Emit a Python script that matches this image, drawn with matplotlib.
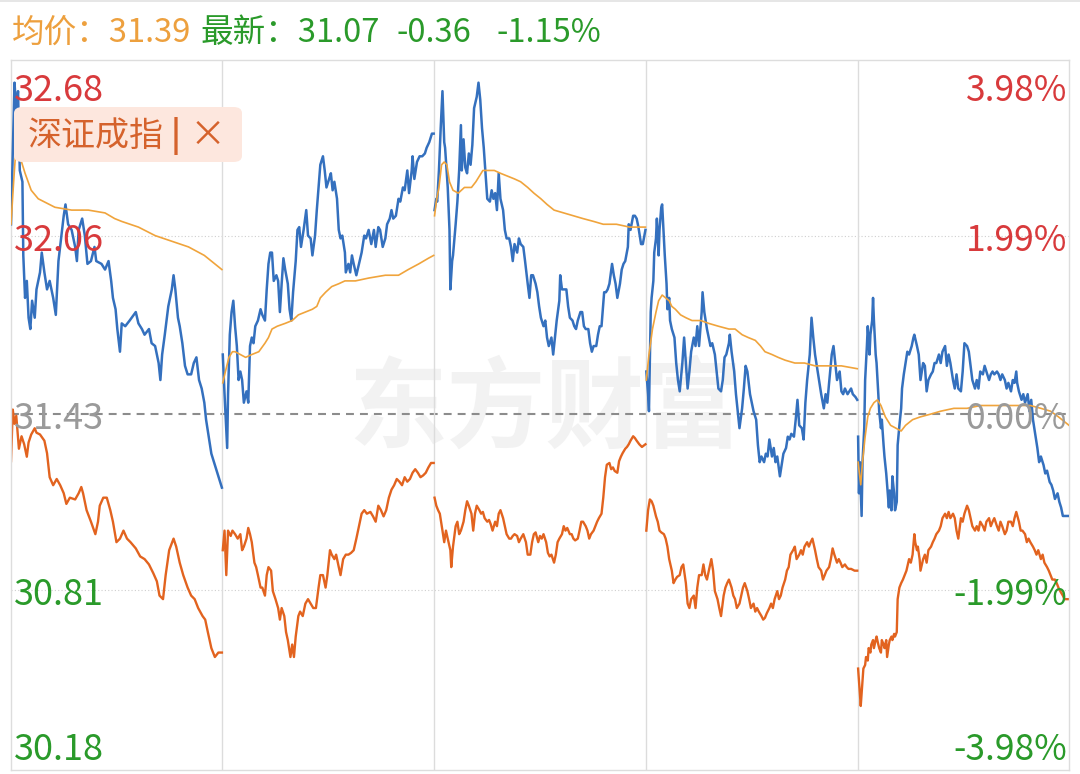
import numpy as np
import matplotlib
matplotlib.use("Agg")
import matplotlib.pyplot as plt
from matplotlib.patches import FancyBboxPatch
from matplotlib.lines import Line2D

plt.rcParams['font.family'] = ['Noto Sans CJK SC', 'DejaVu Sans']

# ---- data (5 trading days, minutes since open 0..240) ----
prev_close = 31.43
avg_last = 31.39
last_price = 31.07
change = -0.36
change_pct = -1.15
left_ticks = [32.68, 32.06, 31.43, 30.81, 30.18]
right_ticks = ["3.98%", "1.99%", "0.00%", "-1.99%", "-3.98%"]

price_t = [
    [0, 4, 6, 8, 10, 13, 14, 16, 18, 20, 22, 24, 27, 29, 33, 35, 38, 41, 44, 48,
     51, 54, 57, 60, 62, 65, 69, 73, 75, 77, 81, 84, 87, 91, 95, 97, 103, 107, 111, 114,
     116, 119, 121, 124, 126, 130, 135, 142, 145, 149, 152, 157, 160, 164, 168, 170, 172, 175, 179, 183,
     185, 187, 190, 192, 195, 198, 201, 205, 208, 211, 214, 217, 220, 222, 225, 228, 232, 236, 240],
    [0, 2, 5, 6, 8, 10, 12, 14, 16, 18, 20, 22, 24, 27, 29, 31, 33, 35, 37, 40,
     43, 45, 48, 50, 52, 54, 56, 58, 61, 63, 65, 67, 69, 71, 74, 76, 78, 80, 83, 85,
     87, 89, 92, 95, 97, 100, 102, 105, 107, 109, 111, 114, 116, 118, 121, 123, 125, 127, 130, 132,
     134, 136, 139, 140, 143, 145, 147, 149, 152, 155, 158, 161, 163, 166, 169, 172, 174, 177, 179, 182,
     185, 187, 190, 192, 194, 197, 200, 202, 205, 207, 210, 212, 215, 216, 218, 221, 224, 227, 230, 232,
     235, 238, 240],
    [0, 2, 3, 5, 7, 9, 11, 12, 15, 17, 18, 20, 21, 24, 26, 28, 30, 31, 33, 35,
     37, 39, 41, 43, 45, 48, 50, 52, 54, 56, 58, 60, 63, 65, 67, 69, 71, 73, 75, 78,
     80, 82, 85, 87, 89, 91, 94, 96, 98, 101, 103, 106, 108, 110, 112, 115, 117, 119, 121, 124,
     126, 128, 130, 133, 135, 137, 139, 142, 143, 145, 148, 150, 152, 154, 157, 159, 161, 163, 166, 168,
     170, 172, 175, 177, 179, 181, 184, 186, 188, 190, 193, 195, 197, 199, 202, 204, 206, 208, 211, 213,
     215, 217, 220, 221, 223, 226, 228, 230, 232, 235, 237, 240],
    [0, 2, 3, 5, 6, 8, 9, 11, 12, 14, 15, 17, 18, 20, 21, 23, 24, 26, 27, 29,
     32, 34, 36, 38, 41, 43, 45, 47, 49, 51, 54, 56, 58, 60, 63, 64, 66, 69, 71, 73,
     75, 78, 80, 82, 85, 87, 89, 91, 94, 95, 97, 100, 102, 104, 106, 109, 111, 113, 115, 118,
     120, 122, 125, 127, 129, 131, 134, 136, 138, 140, 143, 145, 147, 149, 152, 154, 156, 159, 161, 163,
     165, 168, 170, 172, 174, 177, 179, 181, 183, 186, 188, 190, 192, 195, 197, 199, 202, 204, 206, 208,
     211, 213, 215, 217, 220, 222, 224, 226, 229, 231, 233, 235, 238, 240],
    [0, 1, 2, 4, 5, 7, 8, 10, 11, 13, 14, 16, 17, 18, 20, 21, 23, 24, 26, 27,
     29, 30, 32, 33, 35, 36, 38, 39, 41, 42, 44, 45, 47, 49, 50, 52, 55, 56, 58, 61,
     63, 64, 67, 69, 71, 74, 76, 78, 80, 83, 85, 87, 89, 92, 94, 96, 99, 101, 103, 105,
     108, 110, 112, 114, 117, 119, 121, 124, 126, 128, 130, 133, 135, 137, 139, 142, 144, 146, 149, 151,
     153, 155, 158, 160, 162, 164, 167, 169, 171, 174, 176, 178, 180, 181, 183, 186, 188, 190, 193, 195,
     197, 199, 202, 204, 206, 208, 211, 213, 215, 218, 220, 222, 224, 227, 229, 231, 233, 236, 240],
]
price = [
    [32.10, 32.60, 32.50, 32.57, 32.29, 32.25, 31.99, 31.84, 31.90, 31.77,
     31.73, 31.83, 31.77, 31.87, 31.93, 32.00, 31.93, 31.87, 31.90, 31.84,
     31.78, 31.97, 32.05, 32.13, 32.17, 32.10, 32.08, 32.02, 31.97, 32.08,
     32.12, 32.06, 31.96, 31.97, 32.02, 31.97, 31.96, 31.94, 31.97, 31.90,
     31.84, 31.80, 31.73, 31.65, 31.75, 31.74, 31.76, 31.79, 31.75, 31.73,
     31.71, 31.73, 31.68, 31.67, 31.61, 31.55, 31.64, 31.71, 31.81, 31.87,
     31.92, 31.87, 31.77, 31.74, 31.68, 31.60, 31.57, 31.57, 31.61, 31.63,
     31.55, 31.52, 31.47, 31.41, 31.35, 31.29, 31.25, 31.21, 31.17],
    [31.64, 31.50, 31.31, 31.50, 31.71, 31.79, 31.83, 31.74, 31.67, 31.55,
     31.58, 31.55, 31.47, 31.51, 31.47, 31.67, 31.70, 31.68, 31.74, 31.76,
     31.80, 31.78, 31.76, 31.87, 31.96, 32.00, 32.00, 31.90, 31.92, 31.90,
     31.79, 31.89, 31.98, 31.94, 31.89, 31.80, 31.76, 31.86, 31.97, 32.08,
     32.09, 32.02, 32.08, 32.15, 32.06, 32.05, 31.99, 32.06, 32.15, 32.23,
     32.31, 32.34, 32.29, 32.23, 32.26, 32.28, 32.22, 32.25, 32.19, 32.08,
     32.05, 32.06, 32.00, 31.93, 31.96, 31.93, 31.99, 31.96, 31.92, 31.96,
     32.00, 32.06, 32.05, 32.08, 32.03, 32.08, 32.02, 32.09, 32.08, 32.02,
     32.05, 32.10, 32.12, 32.15, 32.12, 32.13, 32.19, 32.18, 32.23, 32.22,
     32.29, 32.21, 32.29, 32.34, 32.26, 32.32, 32.34, 32.34, 32.35, 32.37,
     32.39, 32.42, 32.42],
    [32.15, 32.19, 32.18, 32.29, 32.44, 32.57, 32.39, 32.37, 32.23, 32.08,
     31.87, 31.97, 31.99, 32.10, 32.18, 32.29, 32.45, 32.29, 32.40, 32.30,
     32.28, 32.35, 32.31, 32.38, 32.51, 32.55, 32.60, 32.54, 32.44, 32.37,
     32.28, 32.19, 32.18, 32.22, 32.19, 32.21, 32.15, 32.28, 32.19, 32.15,
     32.08, 32.05, 32.05, 32.02, 31.97, 32.03, 32.00, 32.05, 32.03, 32.02,
     31.97, 31.89, 31.84, 31.92, 31.92, 31.89, 31.86, 31.81, 31.77, 31.74,
     31.76, 31.70, 31.67, 31.70, 31.64, 31.70, 31.76, 31.83, 31.92, 31.87,
     31.87, 31.87, 31.81, 31.77, 31.76, 31.74, 31.73, 31.76, 31.79, 31.79,
     31.74, 31.73, 31.73, 31.68, 31.65, 31.67, 31.67, 31.71, 31.74, 31.74,
     31.86, 31.86, 31.87, 31.89, 31.96, 31.92, 31.89, 31.84, 31.89, 31.94,
     31.96, 31.97, 32.02, 32.10, 32.08, 32.13, 32.13, 32.12, 32.09, 32.03,
     32.03, 32.08],
    [31.58, 31.50, 31.44, 31.79, 31.84, 31.90, 32.00, 32.05, 32.12, 31.99,
     32.08, 32.16, 32.17, 32.05, 31.99, 31.89, 31.80, 31.84, 31.76, 31.73,
     31.70, 31.61, 31.55, 31.51, 31.61, 31.70, 31.61, 31.52, 31.58, 31.65,
     31.70, 31.67, 31.74, 31.67, 31.79, 31.86, 31.79, 31.73, 31.70, 31.67,
     31.68, 31.64, 31.58, 31.52, 31.51, 31.55, 31.63, 31.64, 31.68, 31.71,
     31.65, 31.58, 31.50, 31.44, 31.38, 31.45, 31.52, 31.60, 31.58, 31.50,
     31.47, 31.44, 31.41, 31.32, 31.26, 31.28, 31.26, 31.29, 31.28, 31.34,
     31.28, 31.31, 31.26, 31.28, 31.21, 31.25, 31.29, 31.31, 31.35, 31.34,
     31.36, 31.35, 31.41, 31.48, 31.39, 31.38, 31.34, 31.47, 31.55, 31.64,
     31.77, 31.70, 31.64, 31.58, 31.54, 31.50, 31.45, 31.50, 31.47, 31.54,
     31.64, 31.67, 31.61, 31.55, 31.58, 31.51, 31.50, 31.52, 31.50, 31.51,
     31.52, 31.50, 31.49, 31.48],
    [31.35, 31.15, 31.26, 31.07, 31.26, 31.38, 31.55, 31.67, 31.74, 31.64,
     31.71, 31.76, 31.84, 31.76, 31.64, 31.61, 31.50, 31.44, 31.38, 31.41,
     31.32, 31.28, 31.22, 31.18, 31.10, 31.16, 31.09, 31.21, 31.15, 31.09,
     31.12, 31.32, 31.39, 31.45, 31.52, 31.57, 31.63, 31.65, 31.64, 31.67,
     31.70, 31.71, 31.67, 31.64, 31.55, 31.61, 31.60, 31.51, 31.55, 31.57,
     31.58, 31.61, 31.61, 31.64, 31.61, 31.65, 31.67, 31.60, 31.64, 31.61,
     31.55, 31.52, 31.57, 31.52, 31.51, 31.58, 31.68, 31.67, 31.65, 31.60,
     31.55, 31.52, 31.55, 31.52, 31.58, 31.57, 31.60, 31.58, 31.55, 31.57,
     31.58, 31.57, 31.58, 31.57, 31.55, 31.57, 31.55, 31.52, 31.54, 31.51,
     31.55, 31.54, 31.58, 31.54, 31.51, 31.48, 31.50, 31.47, 31.50, 31.44,
     31.48, 31.41, 31.35, 31.31, 31.26, 31.28, 31.25, 31.22, 31.23, 31.19,
     31.18, 31.16, 31.13, 31.15, 31.12, 31.10, 31.07, 31.07, 31.07],
]

avg_t = [
    [0, 3, 5, 8, 12, 16, 23, 31, 50, 69, 88, 107, 118, 126, 145, 164, 183, 202, 220, 232, 240],
    [0, 3, 7, 11, 14, 20, 26, 33, 41, 48, 52, 56, 62, 71, 79, 86, 94, 102, 107, 111,
     117, 124, 132, 139, 151, 166, 185, 200, 211, 223, 234, 240],
    [0, 2, 5, 8, 11, 14, 17, 21, 27, 34, 42, 47, 51, 55, 60, 68, 75, 83, 91, 98,
     106, 113, 121, 128, 136, 147, 158, 169, 181, 192, 207, 222, 240],
    [0, 3, 7, 11, 14, 18, 22, 26, 29, 33, 39, 45, 52, 62, 71, 82, 94, 101, 109, 116,
     124, 130, 135, 143, 150, 158, 169, 180, 192, 207, 222, 240],
    [0, 3, 5, 8, 11, 14, 18, 22, 26, 31, 37, 43, 49, 54, 62, 71, 83, 94, 109, 124,
     139, 155, 170, 185, 196, 208, 219, 228, 236, 240],
]
avg = [
    [32.10, 32.25, 32.34, 32.37, 32.32, 32.28, 32.22, 32.19, 32.16, 32.15,
     32.15, 32.14, 32.12, 32.11, 32.09, 32.06, 32.04, 32.02, 31.99, 31.96, 31.94],
    [31.54, 31.58, 31.63, 31.65, 31.65, 31.64, 31.63, 31.64, 31.65, 31.68,
     31.70, 31.73, 31.74, 31.75, 31.76, 31.78, 31.79, 31.80, 31.81, 31.84,
     31.86, 31.88, 31.89, 31.90, 31.90, 31.91, 31.92, 31.92, 31.94, 31.96, 31.98, 31.99],
    [32.13, 32.18, 32.23, 32.31, 32.32, 32.31, 32.25, 32.22, 32.21, 32.23,
     32.23, 32.25, 32.27, 32.29, 32.29, 32.29, 32.28, 32.27, 32.26, 32.25,
     32.23, 32.21, 32.19, 32.17, 32.15, 32.14, 32.13, 32.12, 32.11, 32.10, 32.10, 32.09, 32.09],
    [31.55, 31.64, 31.73, 31.79, 31.83, 31.85, 31.84, 31.83, 31.81, 31.80,
     31.78, 31.77, 31.76, 31.76, 31.75, 31.74, 31.73, 31.73, 31.71, 31.70,
     31.69, 31.67, 31.65, 31.64, 31.63, 31.62, 31.61, 31.61, 31.60, 31.60, 31.60, 31.59],
    [31.26, 31.18, 31.26, 31.35, 31.42, 31.45, 31.47, 31.48, 31.46, 31.42,
     31.39, 31.38, 31.37, 31.39, 31.41, 31.42, 31.43, 31.44, 31.45, 31.45,
     31.46, 31.46, 31.46, 31.46, 31.46, 31.45, 31.44, 31.42, 31.40, 31.39],
]

# 深证成指, change in % against its own previous close
index_t = [
    [0, 2, 4, 6, 9, 12, 15, 18, 20, 23, 27, 29, 33, 38, 41, 44, 48, 52, 56, 60,
     63, 67, 73, 77, 80, 82, 86, 91, 96, 99, 101, 105, 109, 113, 116, 120, 124, 128, 132, 136,
     142, 147, 152, 157, 162, 166, 169, 173, 176, 180, 185, 188, 192, 196, 201, 205, 209, 213, 218, 221,
     224, 228, 232, 236, 240],
    [0, 2, 4, 6, 9, 11, 14, 17, 20, 22, 24, 27, 29, 31, 33, 36, 38, 40, 43, 45,
     48, 50, 52, 55, 57, 60, 63, 65, 67, 70, 72, 74, 77, 79, 81, 83, 86, 88, 91, 94,
     97, 100, 103, 106, 109, 111, 114, 117, 119, 122, 124, 127, 129, 132, 134, 137, 140, 143, 146, 149,
     152, 155, 158, 161, 164, 168, 171, 174, 177, 180, 183, 186, 189, 192, 195, 198, 201, 204, 207, 210,
     213, 216, 219, 222, 225, 228, 231, 234, 237, 240],
    [0, 2, 4, 6, 9, 11, 13, 15, 18, 19, 21, 24, 26, 28, 30, 33, 35, 37, 39, 42,
     44, 46, 48, 51, 53, 55, 57, 60, 62, 64, 66, 69, 71, 73, 75, 78, 80, 82, 85, 87,
     89, 91, 94, 96, 98, 101, 104, 106, 109, 111, 113, 115, 118, 120, 122, 124, 127, 129, 131, 133,
     136, 138, 140, 142, 145, 147, 149, 151, 154, 156, 158, 160, 163, 165, 167, 169, 172, 174, 176, 178,
     181, 183, 185, 187, 190, 192, 194, 196, 199, 201, 203, 205, 208, 210, 212, 214, 217, 219, 221, 223,
     226, 228, 230, 233, 236, 240],
    [0, 2, 4, 6, 8, 11, 13, 15, 17, 20, 22, 24, 26, 29, 31, 33, 35, 38, 40, 42,
     45, 47, 49, 51, 54, 56, 58, 60, 63, 65, 67, 69, 72, 74, 76, 78, 81, 83, 85, 88,
     90, 92, 94, 97, 99, 101, 103, 106, 108, 110, 112, 115, 117, 119, 122, 124, 126, 128, 131, 133,
     135, 137, 140, 142, 144, 146, 149, 151, 153, 155, 158, 160, 162, 164, 167, 169, 171, 174, 176, 178,
     180, 183, 185, 187, 189, 192, 194, 196, 199, 201, 203, 205, 208, 210, 212, 214, 217, 219, 221, 223,
     226, 228, 230, 233, 237, 240],
    [0, 2, 3, 5, 6, 8, 9, 11, 12, 14, 15, 17, 18, 20, 21, 23, 24, 26, 27, 29,
     30, 32, 33, 35, 36, 38, 39, 41, 42, 44, 45, 47, 49, 51, 53, 55, 58, 60, 62, 64,
     65, 67, 68, 70, 71, 74, 76, 78, 80, 83, 85, 87, 89, 92, 94, 96, 99, 101, 103, 105,
     108, 110, 112, 114, 117, 119, 121, 124, 126, 128, 130, 133, 135, 137, 139, 142, 144, 146, 149, 151,
     153, 155, 158, 160, 162, 164, 167, 169, 171, 174, 176, 178, 180, 183, 185, 187, 190, 192, 194, 196,
     199, 201, 203, 205, 208, 210, 212, 215, 217, 219, 221, 224, 226, 228, 230, 233, 235, 240],
]
index_pct = [
    [-0.53, 0.05, -0.11, -0.02, -0.39, -0.25, -0.34, -0.48, -0.32, -0.23,
     -0.16, -0.21, -0.23, -0.30, -0.44, -0.71, -0.80, -0.73, -0.80, -0.89,
     -1.01, -0.94, -0.96, -0.89, -0.82, -0.89, -1.08, -1.21, -1.35, -1.21,
     -1.03, -0.94, -0.94, -1.08, -1.21, -1.44, -1.40, -1.31, -1.40, -1.44,
     -1.51, -1.60, -1.63, -1.69, -1.79, -1.88, -2.04, -2.08, -1.81, -1.53,
     -1.40, -1.49, -1.67, -1.81, -1.95, -2.04, -2.08, -2.18, -2.27, -2.31,
     -2.45, -2.63, -2.73, -2.68, -2.68],
    [-1.53, -1.31, -1.81, -1.31, -1.37, -1.31, -1.35, -1.40, -1.35, -1.53,
     -1.49, -1.40, -1.28, -1.35, -1.44, -1.67, -1.72, -1.81, -1.95, -1.95,
     -2.04, -1.81, -1.72, -1.76, -1.99, -2.08, -2.18, -2.31, -2.18, -2.27,
     -2.45, -2.54, -2.73, -2.59, -2.73, -2.50, -2.27, -2.22, -2.27, -2.13,
     -2.08, -2.13, -2.18, -2.18, -1.95, -1.81, -1.81, -1.95, -1.81, -1.53,
     -1.58, -1.63, -1.58, -1.72, -1.81, -1.63, -1.58, -1.58, -1.56, -1.53,
     -1.40, -1.26, -1.12, -1.08, -1.12, -1.10, -1.15, -1.21, -1.03, -1.08,
     -1.15, -1.08, -0.94, -0.85, -0.80, -0.73, -0.76, -0.80, -0.71, -0.76,
     -0.73, -0.66, -0.62, -0.66, -0.71, -0.69, -0.66, -0.60, -0.55, -0.55],
    [-0.94, -1.03, -1.08, -1.12, -1.31, -1.44, -1.31, -1.40, -1.53, -1.72,
     -1.49, -1.26, -1.21, -1.35, -1.31, -1.21, -1.08, -0.98, -1.03, -1.12,
     -1.31, -1.12, -1.03, -1.08, -1.12, -1.10, -1.17, -1.21, -1.19, -1.24,
     -1.31, -1.21, -1.26, -1.12, -1.08, -1.17, -1.26, -1.35, -1.40, -1.40,
     -1.37, -1.35, -1.37, -1.44, -1.40, -1.35, -1.44, -1.58, -1.58, -1.44,
     -1.35, -1.33, -1.44, -1.37, -1.40, -1.35, -1.44, -1.56, -1.60, -1.58,
     -1.67, -1.58, -1.44, -1.40, -1.35, -1.26, -1.31, -1.28, -1.35, -1.35,
     -1.40, -1.42, -1.40, -1.31, -1.21, -1.21, -1.26, -1.31, -1.40, -1.35,
     -1.31, -1.26, -1.21, -1.17, -1.12, -0.94, -0.71, -0.57, -0.55, -0.62,
     -0.60, -0.64, -0.66, -0.53, -0.48, -0.44, -0.39, -0.37, -0.34, -0.30,
     -0.25, -0.27, -0.30, -0.34, -0.37, -0.34],
    [-1.31, -1.08, -0.96, -0.98, -1.03, -1.15, -1.21, -1.31, -1.33, -1.35,
     -1.40, -1.49, -1.63, -1.76, -1.90, -1.86, -1.83, -1.81, -1.72, -1.69,
     -1.90, -2.13, -2.18, -2.08, -2.04, -2.18, -1.95, -1.81, -1.81, -1.69,
     -1.81, -1.86, -1.72, -1.63, -1.76, -1.99, -2.08, -2.18, -2.27, -2.04,
     -1.95, -1.90, -1.86, -1.95, -2.04, -2.08, -2.18, -2.13, -2.04, -1.95,
     -1.90, -1.99, -2.08, -2.18, -2.13, -2.22, -2.18, -2.22, -2.27, -2.31,
     -2.29, -2.24, -2.18, -2.13, -2.18, -2.08, -1.99, -2.08, -2.04, -1.95,
     -1.86, -1.76, -1.72, -1.58, -1.53, -1.49, -1.63, -1.58, -1.53, -1.58,
     -1.49, -1.44, -1.49, -1.44, -1.40, -1.53, -1.63, -1.72, -1.76, -1.86,
     -1.81, -1.76, -1.72, -1.63, -1.51, -1.58, -1.67, -1.63, -1.67, -1.72,
     -1.69, -1.72, -1.74, -1.74, -1.76, -1.76],
    [-2.86, -3.14, -3.28, -3.00, -2.86, -2.82, -2.73, -2.77, -2.63, -2.68,
     -2.59, -2.54, -2.63, -2.54, -2.50, -2.59, -2.63, -2.68, -2.54, -2.59,
     -2.63, -2.54, -2.73, -2.59, -2.54, -2.50, -2.54, -2.47, -2.50, -2.45,
     -2.08, -1.95, -1.90, -1.86, -1.81, -1.76, -1.63, -1.67, -1.58, -1.35,
     -1.44, -1.53, -1.49, -1.63, -1.76, -1.63, -1.58, -1.67, -1.53, -1.49,
     -1.44, -1.40, -1.35, -1.31, -1.26, -1.17, -1.12, -1.17, -1.10, -1.17,
     -1.12, -1.17, -1.31, -1.40, -1.17, -1.21, -1.12, -1.03, -1.08, -1.17,
     -1.26, -1.31, -1.26, -1.31, -1.21, -1.26, -1.31, -1.21, -1.17, -1.26,
     -1.21, -1.17, -1.26, -1.31, -1.21, -1.26, -1.35, -1.31, -1.21, -1.21,
     -1.26, -1.17, -1.10, -1.21, -1.31, -1.31, -1.35, -1.44, -1.40, -1.44,
     -1.49, -1.53, -1.58, -1.53, -1.63, -1.58, -1.67, -1.72, -1.76, -1.81,
     -1.86, -1.86, -1.90, -1.95, -1.99, -2.04, -2.08, -2.08],
]

# ---- colours ----
c_price = '#3470be'
c_avg = '#f0a43c'
c_index = '#e2631f'
c_red = '#d83a3c'
c_green = '#2a9a2a'
c_gray = '#9a9a9a'

W, H = 1080, 774
fig = plt.figure(figsize=(W / 100, H / 100), dpi=100)
ax = fig.add_axes([11 / W, 4 / H, 1058 / W, 710 / H])

day_len = 241
n_days = len(price)
ax.set_xlim(0, n_days * day_len - 1)
ax.set_ylim(30.173, 32.68)

# grid
ax.axhline(prev_close, color='#8c8c8c', lw=1.5, ls=(0, (3.8, 2.9)), zorder=1)
for v in (left_ticks[1], left_ticks[3]):
    ax.axhline(v, color='#cfcfcf', lw=0.8, ls=(0, (1, 2)), zorder=1)
for d in range(1, n_days):
    ax.axvline(d * day_len - 0.5, color='#dcdcdc', lw=1.0, zorder=1)

# watermark
ax.text(546 / W, 1 - 410 / H, "东方财富", transform=fig.transFigure, ha='center', va='center',
        fontsize=71, fontweight='bold', color='#f2f2f2', zorder=0)

for d in range(n_days):
    off = d * day_len
    idx_price = prev_close * (1 + np.array(index_pct[d]) / 100)
    ax.plot(np.array(index_t[d]) + off, idx_price, color=c_index, lw=1.7, zorder=2)
    ax.plot(np.array(price_t[d]) + off, price[d], color=c_price, lw=1.8, zorder=3)
    ax.plot(np.array(avg_t[d]) + off, avg[d], color=c_avg, lw=1.2, zorder=4)

ax.set_xticks([])
ax.set_yticks([])
for s in ax.spines.values():
    s.set_color('#dddddd')
    s.set_linewidth(1.0)

# axis labels drawn inside the plot
lab_colors = [c_red, c_red, c_gray, c_green, c_green]
ytr = ax.get_yaxis_transform()
for i, (v, r) in enumerate(zip(left_ticks, right_ticks)):
    if i == 0:
        yv, dy = ax.get_ylim()[1], -31
    elif i == len(left_ticks) - 1:
        yv, dy = ax.get_ylim()[0], 20
    else:
        yv, dy = v, -5
    ax.annotate(f"{v:.2f}", (0.003, yv), xycoords=ytr, xytext=(0, dy), textcoords='offset pixels',
                ha='left', va='center', fontsize=26, color=lab_colors[i], zorder=5)
    ax.annotate(r, (0.998, yv), xycoords=ytr, xytext=(0, dy), textcoords='offset pixels',
                ha='right', va='center', fontsize=25.5, color=lab_colors[i], zorder=5)

# index legend chip
chip = FancyBboxPatch((14 / W, 1 - 162 / H), 228 / W, 55 / H, transform=fig.transFigure,
                      boxstyle="round,pad=0,rounding_size=0.008", fc='#fde7de', ec='none', zorder=6)
fig.add_artist(chip)
fig.text(28 / W, 1 - 136 / H, "深证成指", ha='left', va='center', fontsize=24.5, color='#d5622c', zorder=7)
fig.text(176 / W, 1 - 136 / H, "|", ha='center', va='center', fontsize=24, color='#d5622c',
         fontweight='bold', zorder=7)
fig.text(208 / W, 1 - 136 / H, "×", ha='center', va='center', fontsize=26, color='#d5622c', zorder=7)

# header
hy = 1 - 33 / H
fig.text(12 / W, hy, f"均价：{avg_last:.2f}", ha='left', va='center', fontsize=23.5, color='#eda03e')
fig.text(200 / W, hy, f"最新：{last_price:.2f}", ha='left', va='center', fontsize=23.5, color=c_green)
fig.text(396 / W, hy, f"{change:.2f}", ha='left', va='center', fontsize=23.5, color=c_green)
fig.text(497 / W, hy, f"{change_pct:.2f}%", ha='left', va='center', fontsize=23.5, color=c_green)
fig.add_artist(Line2D([0, 1], [1 - 1 / H, 1 - 1 / H], transform=fig.transFigure, color='#e2e2e2', lw=1.2))

fig.savefig("out.png", dpi=100)
